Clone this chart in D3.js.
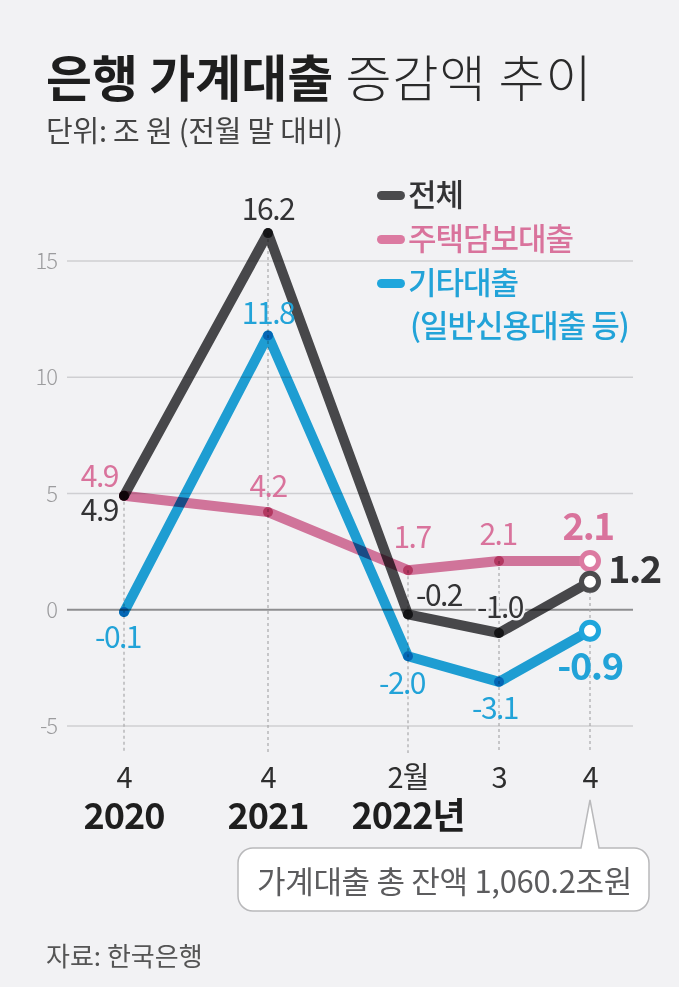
<!DOCTYPE html>
<html><head><meta charset="utf-8">
<script src="https://cdn.jsdelivr.net/npm/d3@7"></script>
<style>
html,body{margin:0;padding:0;background:#f2f2f4;}
svg{display:block;}
text{font-family:"Noto Sans CJK KR","Noto Sans",sans-serif;}
</style></head>
<body><svg id="c" width="679" height="987"></svg>
<script>
// ---- data ----
const categories = ["2020-04","2021-04","2022-02","2022-03","2022-04"];
const monthLabels = ["4","4","2월","3","4"];
const yearLabels = ["2020","2021","2022년","",""];
const seriesNames = ["전체","주택담보대출","기타대출"];
const totalValues = [4.9, 16.2, -0.2, -1.0, 1.2];
const mortgageValues = [4.9, 4.2, 1.7, 2.1, 2.1];
const otherValues = [-0.1, 11.8, -2.0, -3.1, -0.9];
const yTicks = [-5, 0, 5, 10, 15];
const title1 = "은행 가계대출";
const title2 = "증감액 추이";
const subtitle = "단위: 조 원 (전월 말 대비)";
const note = "가계대출 총 잔액 1,060.2조원";
const source = "자료: 한국은행";

// ---- layout / style ----
const W = 679, H = 987;
const bg = "#f2f2f4";
const colors = {"전체":"#4b4b4d","주택담보대출":"#dc7aa1","기타대출":"#1fa6dc"};
const textColors = {"전체":"#333335","주택담보대출":"#d9739c","기타대출":"#22a3d8"};
const svg = d3.select("#c");
svg.append("rect").attr("width",W).attr("height",H).attr("fill",bg);

const x = d3.scaleOrdinal().domain(categories).range([124,268,408,499,590]);
const y = d3.scaleLinear().domain([-5,15]).range([726,261]);
const gridX0 = 67, gridX1 = 633;

// title
const t = svg.append("text").attr("x",46).attr("y",97).attr("fill","#1e1e1e").style("font-size","50px");
t.append("tspan").text(title1).style("font-weight",700).style("letter-spacing","0px");
t.append("tspan").text(" "+title2).style("font-weight",300).attr("fill","#2a2a2a").style("letter-spacing","1px");
svg.append("text").attr("x",46).attr("y",142).text(subtitle).attr("fill","#444").style("font-size","29px").style("font-weight",400).style("letter-spacing","-0.2px");

// grid
const g = svg.append("g");
g.selectAll("line.grid").data(yTicks).join("line")
  .attr("x1",gridX0).attr("x2",gridX1).attr("y1",d=>y(d)).attr("y2",d=>y(d))
  .attr("stroke",d=>d===0?"#8e8e90":"#cfcfd2").attr("stroke-width",d=>d===0?2.2:1.5);
g.selectAll("text.tick").data(yTicks).join("text")
  .attr("x",57).attr("y",d=>y(d)+8).attr("text-anchor","end")
  .attr("fill","#9c9c9e").style("font-size","22px").style("font-weight",300).style("letter-spacing","-1px")
  .text(d=>d);

// vertical dashed lines
const series = [
  {name:"전체", values: totalValues},
  {name:"주택담보대출", values: mortgageValues},
  {name:"기타대출", values: otherValues}
];
categories.forEach((c,i)=>{
  const top = d3.max(series, s=>s.values[i]);
  g.append("line").attr("x1",x(c)).attr("x2",x(c)).attr("y1",y(top)).attr("y2",753)
    .attr("stroke","#a9a9ab").attr("stroke-width",1.2).attr("stroke-dasharray","3,3");
});

// lines
const line = d3.line().x((d,i)=>x(categories[i])).y(d=>y(d));
const drawOrder = ["기타대출","주택담보대출","전체"];
drawOrder.forEach(n=>{
  const s = series.find(s=>s.name===n);
  svg.append("path").attr("d",line(s.values)).attr("fill","none")
    .attr("stroke",colors[n]).attr("stroke-width",10).attr("stroke-linejoin","round").attr("stroke-linecap","round")
    .style("mix-blend-mode","multiply");
});
// dots
drawOrder.forEach(n=>{
  const s = series.find(s=>s.name===n);
  svg.selectAll(null).data(s.values.slice(0,-1)).join("circle")
    .attr("cx",(d,i)=>x(categories[i])).attr("cy",d=>y(d)).attr("r",5)
    .attr("fill",colors[n]).style("mix-blend-mode","multiply");
});
// end open circles
drawOrder.forEach(n=>{
  const s = series.find(s=>s.name===n);
  const last = s.values.length-1;
  svg.append("circle").attr("cx",x(categories[last])).attr("cy",y(s.values[last])).attr("r",8.5)
    .attr("fill","#fff").attr("stroke",colors[n]).attr("stroke-width",5);
});

// value labels (offsets are layout)
const labelLayout = {
  "전체":[ {a:"end",dx:-6,dy:25,s:30}, {a:"middle",dx:0,dy:-13,s:30}, {a:"middle",dx:31,dy:-8,s:30,halo:true}, {a:"middle",dx:1,dy:-15,s:30,halo:true}, {a:"start",dx:18,dy:1,s:38,w:700} ],
  "주택담보대출":[ {a:"end",dx:-6,dy:-9,s:30}, {a:"middle",dx:0,dy:-15,s:30}, {a:"middle",dx:4,dy:-22,s:30}, {a:"middle",dx:-1,dy:-16,s:30}, {a:"middle",dx:-2,dy:-21,s:37,w:700} ],
  "기타대출":[ {a:"middle",dx:-6,dy:36,s:30}, {a:"middle",dx:0,dy:-11,s:30}, {a:"middle",dx:-6,dy:38,s:30}, {a:"middle",dx:-4,dy:37,s:30}, {a:"middle",dx:0,dy:49,s:38,w:700} ]
};
series.forEach(s=>{
  s.values.forEach((v,i)=>{
    const L = labelLayout[s.name][i];
    const txt = svg.append("text").attr("x",x(categories[i])+L.dx).attr("y",y(v)+L.dy)
      .attr("text-anchor",L.a).attr("fill",textColors[s.name])
      .style("font-size",L.s+"px").style("font-weight",L.w||400).style("letter-spacing","-1.5px")
      .text(v.toFixed(1));
    if(L.halo){ txt.attr("stroke",bg).attr("stroke-width",5).style("paint-order","stroke"); }
  });
});

// legend
const lg = svg.append("g");
const legendRows = [
  {name:"전체", lines:["전체"]},
  {name:"주택담보대출", lines:["주택담보대출"]},
  {name:"기타대출", lines:["기타대출","(일반신용대출 등)"]}
];
let ly = 206;
legendRows.forEach(r=>{
  lg.append("rect").attr("x",377).attr("y",ly-15).attr("width",28).attr("height",9).attr("rx",4.5).attr("fill",colors[r.name]);
  r.lines.forEach((ln,k)=>{
    lg.append("text").attr("x",ln.startsWith("(")?410:408).attr("y",ly+k*43).text(ln)
      .attr("fill",textColors[r.name]).style("font-size","31px").style("font-weight",500).style("letter-spacing","-1px");
  });
  ly += 44;
});

// x axis labels
svg.selectAll("text.m").data(categories).join("text")
  .attr("x",d=>x(d)).attr("y",788).attr("text-anchor","middle").attr("fill","#2e2e2e")
  .style("font-size","29px").style("font-weight",400).style("letter-spacing","-1px")
  .text((d,i)=>monthLabels[i]);
svg.selectAll("text.yr").data(categories).join("text")
  .attr("x",d=>x(d)).attr("y",829).attr("text-anchor","middle").attr("fill","#1e1e1e")
  .style("font-size","36px").style("font-weight",700).style("letter-spacing","-1px")
  .text((d,i)=>yearLabels[i]);

// callout box
const bx0=238, bx1=649, by0=848, by1=911, r=15, px=x(categories[4]);
const p = d3.path();
p.moveTo(bx0+r,by0);
p.lineTo(px-9,by0); p.lineTo(px,800); p.lineTo(px+9,by0);
p.lineTo(bx1-r,by0); p.arcTo(bx1,by0,bx1,by0+r,r);
p.lineTo(bx1,by1-r); p.arcTo(bx1,by1,bx1-r,by1,r);
p.lineTo(bx0+r,by1); p.arcTo(bx0,by1,bx0,by1-r,r);
p.lineTo(bx0,by0+r); p.arcTo(bx0,by0,bx0+r,by0,r);
p.closePath();
svg.append("path").attr("d",p.toString()).attr("fill","#fff").attr("stroke","#b9b9bb").attr("stroke-width",1.5);
svg.append("text").attr("x",(bx0+bx1)/2+1).attr("y",893).attr("text-anchor","middle").text(note)
  .attr("fill","#5c5c5e").style("font-size","31px").style("font-weight",400).style("letter-spacing","-0.3px");

// source
svg.append("text").attr("x",46).attr("y",966).text(source).attr("fill","#555")
  .style("font-size","26px").style("font-weight",400).style("letter-spacing","0px");
</script></body></html>
